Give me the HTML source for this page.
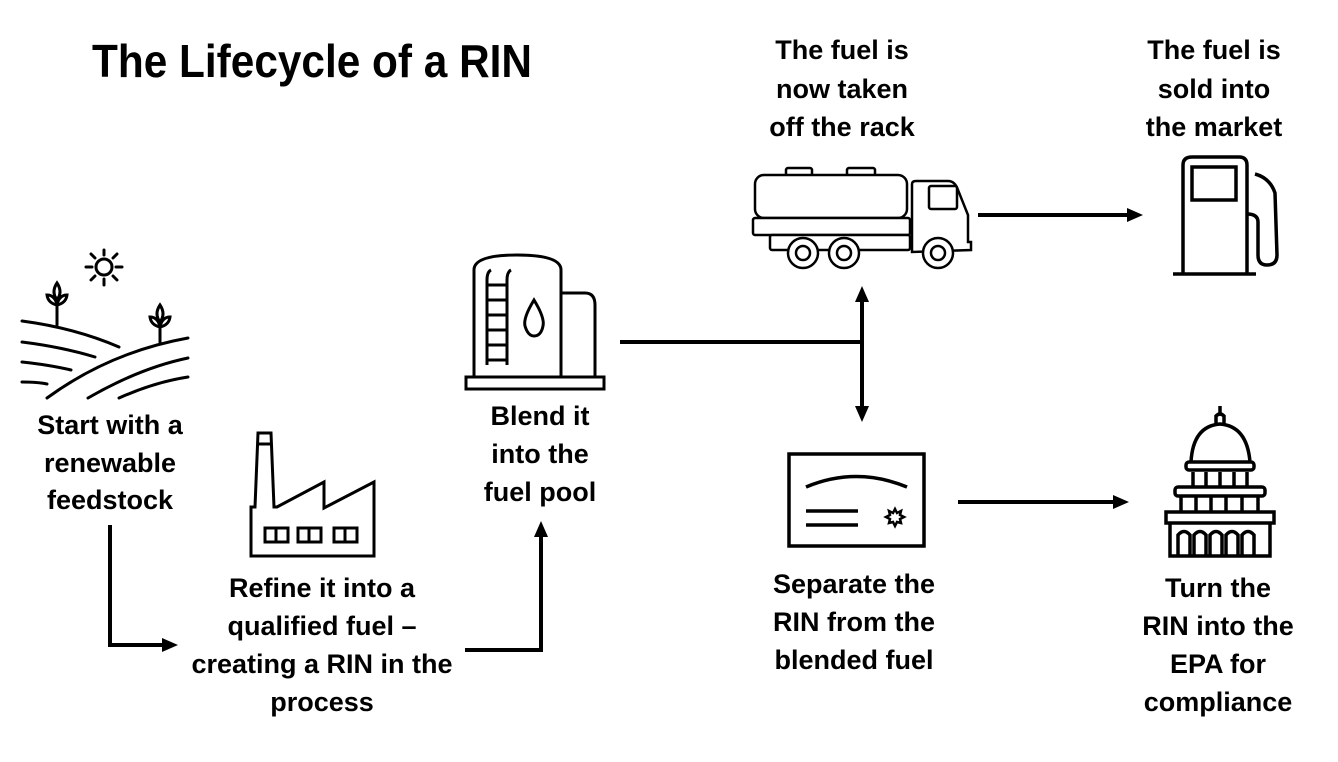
<!DOCTYPE html>
<html><head><meta charset="utf-8"><style>
html,body{margin:0;padding:0;background:#fff;}
svg{display:block;}
text{font-family:"Liberation Sans Narrow","Liberation Sans",sans-serif;font-weight:bold;fill:#000;}
</style></head><body>
<svg width="1338" height="762" viewBox="0 0 1338 762" xmlns="http://www.w3.org/2000/svg">
<text x="92" y="77" font-size="46" textLength="440" lengthAdjust="spacingAndGlyphs" style="font-family:'Liberation Sans',sans-serif">The Lifecycle of a RIN</text>

<g font-size="27" text-anchor="middle">
<text x="110" y="434">Start with a</text><text x="110" y="472">renewable</text><text x="110" y="509">feedstock</text>
<text x="540" y="425">Blend it</text><text x="540" y="463">into the</text><text x="540" y="501">fuel pool</text>
<text x="322" y="597">Refine it into a</text><text x="322" y="635">qualified fuel –</text><text x="322" y="673">creating a RIN in the</text><text x="322" y="711">process</text>
<text x="842" y="59">The fuel is</text><text x="842" y="98">now taken</text><text x="842" y="136">off the rack</text>
<text x="1214" y="59">The fuel is</text><text x="1214" y="98">sold into</text><text x="1214" y="136">the market</text>
<text x="854" y="593">Separate the</text><text x="854" y="631">RIN from the</text><text x="854" y="669">blended fuel</text>
<text x="1218" y="597">Turn the</text><text x="1218" y="635">RIN into the</text><text x="1218" y="673">EPA for</text><text x="1218" y="711">compliance</text>
</g>

<!-- connectors -->
<g stroke="#000" stroke-width="4" fill="none">
<polyline points="110,525 110,645 165,645"/>
<polyline points="465,650 541,650 541,535"/>
<line x1="620" y1="342" x2="862" y2="342"/>
<line x1="862" y1="298" x2="862" y2="410"/>
<line x1="978" y1="215" x2="1128" y2="215"/>
<line x1="958" y1="502" x2="1114" y2="502"/>
</g>
<g fill="#000">
<polygon points="178,645 162,638 162,652"/>
<polygon points="541,521 534,537 548,537"/>
<polygon points="862,286 855,302 869,302"/>
<polygon points="862,422 855,406 869,406"/>
<polygon points="1143,215 1127,208 1127,222"/>
<polygon points="1129,502 1113,495 1113,509"/>
</g>

<!-- farm -->
<g stroke="#000" stroke-width="3" fill="none" stroke-linecap="round">
<circle cx="104" cy="267" r="8"/>
<line x1="104" y1="250" x2="104" y2="255"/><line x1="104" y1="279" x2="104" y2="285"/>
<line x1="86" y1="267" x2="92" y2="267"/><line x1="116" y1="267" x2="122" y2="267"/>
<line x1="91" y1="254" x2="95" y2="258"/><line x1="113" y1="276" x2="117" y2="280"/>
<line x1="117" y1="254" x2="113" y2="258"/><line x1="91" y1="280" x2="95" y2="276"/>
<line x1="57" y1="298" x2="57" y2="325"/>
<path d="M57,283 Q51,292 57,300 Q63,292 57,283Z M57,305 Q48,303 47,295 Q55,295 57,305 M57,305 Q66,303 67,295 Q59,295 57,305"/>
<line x1="160" y1="322" x2="160" y2="342"/>
<path d="M160,305 Q154,314 160,322 Q166,314 160,305Z M160,327 Q151,325 150,317 Q158,317 160,327 M160,327 Q169,325 170,317 Q162,317 160,327"/>
<path d="M22,321 Q75,328 119,347"/>
<path d="M22,342 Q62,347 95,357"/>
<path d="M22,362 Q50,365 71,370"/>
<path d="M22,382 Q38,382 47,384"/>
<path d="M47,398 Q110,352 188,338"/>
<path d="M88,398 Q140,368 188,358"/>
<path d="M119,398 Q155,382 188,377"/>
</g>

<!-- factory -->
<g stroke="#000" stroke-width="3" fill="none">
<path d="M251,556 L251,507 L255,507 L258,433 L271,433 L274,507 L277,507 L324,482 L324,508 L374,482 L374,556 Z"/>
<line x1="258" y1="444" x2="271" y2="444"/>
<rect x="265" y="528" width="23" height="14"/><line x1="276" y1="528" x2="276" y2="542"/>
<rect x="298" y="528" width="23" height="14"/><line x1="309" y1="528" x2="309" y2="542"/>
<rect x="334" y="528" width="23" height="14"/><line x1="345" y1="528" x2="345" y2="542"/>
</g>

<!-- tank -->
<g stroke="#000" stroke-width="3" fill="none">
<path d="M474,377 L474,270 Q474,255 517,255 Q561,255 561,270 L561,377"/>
<path d="M561,293 L585,293 Q595,293 595,305 L595,377"/>
<rect x="466" y="377" width="138" height="12"/>
<path d="M487,365 L487,280 Q487,272 491,270 M507,365 L507,280 Q507,272 511,270"/>
<line x1="487" y1="285" x2="507" y2="285"/><line x1="487" y1="300" x2="507" y2="300"/>
<line x1="487" y1="315" x2="507" y2="315"/><line x1="487" y1="330" x2="507" y2="330"/>
<line x1="487" y1="345" x2="507" y2="345"/><line x1="487" y1="360" x2="507" y2="360"/>
<path d="M534,300 Q523,318 525,326 Q528,336 534,336 Q541,336 543,326 Q545,318 534,300Z"/>
</g>

<!-- truck -->
<g stroke="#000" stroke-width="2.5" fill="#fff">
<rect x="786" y="168" width="26" height="8" rx="2"/>
<rect x="847" y="168" width="28" height="8" rx="2"/>
<rect x="755" y="175" width="152" height="43" rx="9"/>
<rect x="753" y="218" width="157" height="17" rx="2"/>
<rect x="770" y="235" width="140" height="15" rx="2"/>
<path d="M912,252 L912,184 Q912,181 916,181 L948,181 Q955,181 958,190 L968,215 L968,242 L971,242 L971,250 L912,252Z"/>
<rect x="929" y="186" width="28" height="23" rx="2"/>
<circle cx="803" cy="253" r="15"/><circle cx="803" cy="253" r="7"/>
<circle cx="844" cy="253" r="15"/><circle cx="844" cy="253" r="7"/>
<circle cx="938" cy="253" r="15"/><circle cx="938" cy="253" r="7"/>
</g>

<!-- pump -->
<g stroke="#000" stroke-width="3.5" fill="none">
<path d="M1183,273 L1183,165 Q1183,157 1192,157 L1239,157 Q1247,157 1247,165 L1247,273"/>
<line x1="1173" y1="274" x2="1256" y2="274"/>
<rect x="1192" y="167" width="44" height="33"/>
<path d="M1255,174 Q1270,178 1275,193 L1277,255 Q1277,265 1267,265 Q1258,265 1258,255 L1258,222 Q1258,214 1247,214"/>
</g>

<!-- certificate -->
<g stroke="#000" stroke-width="3.5" fill="none">
<rect x="789" y="454" width="135" height="92"/>
<path d="M806,487 Q856,466 907,487"/>
<line x1="806" y1="511" x2="858" y2="511"/>
<line x1="806" y1="525" x2="858" y2="525"/>
<polygon stroke-width="2.5" points="895,509 897,513 901,511 900,515 904,517 900,519 901,523 897,522 895,526 893,522 889,523 890,519 886,517 890,515 889,511 893,513"/>
</g>

<!-- capitol -->
<g stroke="#000" stroke-width="3.5" fill="none">
<line x1="1220" y1="406" x2="1220" y2="414"/>
<path d="M1216,425 L1216,416 Q1220,412 1224,416 L1224,425"/>
<path d="M1191,462 Q1193,426 1220,424 Q1247,426 1250,462"/>
<rect x="1186" y="462" width="68" height="8" rx="3"/>
<line x1="1193" y1="472" x2="1193" y2="486"/><line x1="1206" y1="472" x2="1206" y2="486"/>
<line x1="1220" y1="472" x2="1220" y2="486"/><line x1="1234" y1="472" x2="1234" y2="486"/>
<line x1="1247" y1="472" x2="1247" y2="486"/>
<rect x="1175" y="487" width="90" height="9" rx="3"/>
<line x1="1181" y1="497" x2="1181" y2="511"/><line x1="1196" y1="497" x2="1196" y2="511"/>
<line x1="1211" y1="497" x2="1211" y2="511"/><line x1="1226" y1="497" x2="1226" y2="511"/>
<line x1="1242" y1="497" x2="1242" y2="511"/><line x1="1258" y1="497" x2="1258" y2="511"/>
<rect x="1166" y="512" width="108" height="11"/>
<path d="M1170,523 L1170,556 L1270,556 L1270,523"/>
<path d="M1178,556 L1178,535 Q1184,528 1190,535 L1190,556 M1194,556 L1194,535 Q1200,528 1206,535 L1206,556 M1210,556 L1210,535 Q1216,528 1222,535 L1222,556 M1226,556 L1226,535 Q1232,528 1238,535 L1238,556 M1242,556 L1242,535 Q1248,528 1254,535 L1254,556"/>
</g>
</svg>
</body></html>
